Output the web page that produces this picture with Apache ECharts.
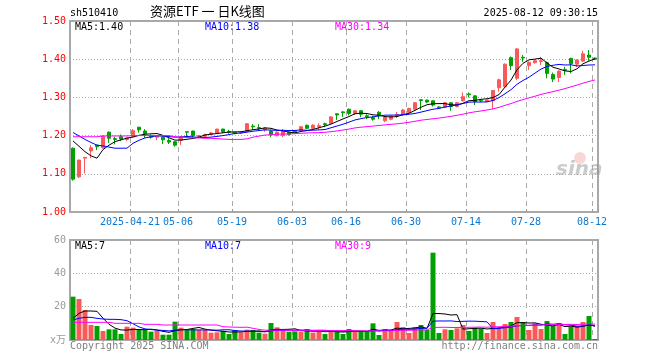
<!DOCTYPE html>
<html><head><meta charset="utf-8">
<script src="https://cdn.jsdelivr.net/npm/echarts@6/dist/echarts.min.js"></script>
<style>html,body{margin:0;padding:0;background:#fff}#c{width:660px;height:360px}</style>
</head><body><div id="c"></div>
<script>
const dates = [
'2025-04-07','2025-04-08','2025-04-09','2025-04-10','2025-04-11','2025-04-14','2025-04-15','2025-04-16','2025-04-17','2025-04-18',
'2025-04-21','2025-04-22','2025-04-23','2025-04-24','2025-04-25','2025-04-28','2025-04-29','2025-04-30',
'2025-05-06','2025-05-07','2025-05-08','2025-05-09','2025-05-12','2025-05-13','2025-05-14','2025-05-15','2025-05-16',
'2025-05-19','2025-05-20','2025-05-21','2025-05-22','2025-05-23','2025-05-26','2025-05-27','2025-05-28','2025-05-29','2025-05-30',
'2025-06-03','2025-06-04','2025-06-05','2025-06-06','2025-06-09','2025-06-10','2025-06-11','2025-06-12','2025-06-13',
'2025-06-16','2025-06-17','2025-06-18','2025-06-19','2025-06-20','2025-06-23','2025-06-24','2025-06-25','2025-06-26','2025-06-27',
'2025-06-30','2025-07-01','2025-07-02','2025-07-03','2025-07-04','2025-07-07','2025-07-08','2025-07-09','2025-07-10','2025-07-11',
'2025-07-14','2025-07-15','2025-07-16','2025-07-17','2025-07-18','2025-07-21','2025-07-22','2025-07-23','2025-07-24','2025-07-25',
'2025-07-28','2025-07-29','2025-07-30','2025-07-31','2025-08-01','2025-08-04','2025-08-05','2025-08-06','2025-08-07','2025-08-08',
'2025-08-11','2025-08-12'];
const opens = [1.167,1.092,1.141,1.160,1.175,1.168,1.209,1.192,1.197,1.190,
1.197,1.222,1.212,1.200,1.196,1.196,1.187,1.184,1.188,1.210,
1.212,1.195,1.198,1.203,1.207,1.217,1.211,1.208,1.207,1.210,
1.225,1.221,1.215,1.212,1.200,1.200,1.209,1.213,1.213,1.227,
1.219,1.224,1.231,1.232,1.257,1.262,1.269,1.258,1.265,1.252,
1.247,1.261,1.239,1.243,1.253,1.256,1.261,1.269,1.294,1.293,
1.291,1.275,1.274,1.286,1.276,1.291,1.309,1.304,1.292,1.289,
1.291,1.325,1.328,1.404,1.350,1.405,1.383,1.391,1.394,1.391,
1.360,1.352,1.373,1.402,1.387,1.395,1.411,1.403];
const closes = [1.086,1.136,1.143,1.168,1.171,1.199,1.193,1.190,1.191,1.194,
1.213,1.215,1.205,1.196,1.198,1.189,1.183,1.175,1.196,1.209,
1.200,1.200,1.203,1.207,1.217,1.210,1.209,1.206,1.208,1.231,
1.223,1.219,1.220,1.202,1.209,1.212,1.203,1.208,1.223,1.219,
1.227,1.226,1.229,1.249,1.254,1.260,1.258,1.265,1.256,1.250,
1.243,1.252,1.248,1.251,1.255,1.267,1.271,1.286,1.292,1.288,
1.280,1.273,1.286,1.276,1.286,1.302,1.307,1.289,1.291,1.293,
1.318,1.346,1.387,1.383,1.427,1.403,1.392,1.396,1.396,1.363,
1.348,1.369,1.371,1.388,1.398,1.414,1.405,1.400];
const lows = [1.082,1.089,1.101,1.141,1.162,1.166,1.181,1.177,1.186,1.186,
1.196,1.208,1.194,1.192,1.188,1.178,1.178,1.171,1.175,1.195,
1.195,1.193,1.196,1.201,1.205,1.206,1.205,1.203,1.204,1.208,
1.215,1.212,1.210,1.196,1.198,1.196,1.200,1.206,1.211,1.217,
1.217,1.215,1.222,1.231,1.241,1.249,1.253,1.254,1.248,1.243,
1.239,1.243,1.235,1.240,1.246,1.252,1.259,1.267,1.267,1.285,
1.276,1.270,1.272,1.265,1.274,1.289,1.300,1.280,1.288,1.287,
1.269,1.315,1.325,1.372,1.345,1.393,1.372,1.388,1.385,1.350,
1.340,1.340,1.359,1.363,1.380,1.393,1.396,1.399];
const highs = [1.169,1.137,1.144,1.175,1.176,1.200,1.211,1.197,1.203,1.195,
1.217,1.223,1.217,1.203,1.200,1.197,1.193,1.186,1.199,1.211,
1.213,1.201,1.205,1.209,1.218,1.218,1.215,1.209,1.210,1.233,
1.230,1.230,1.222,1.215,1.211,1.217,1.210,1.214,1.225,1.229,
1.230,1.232,1.234,1.251,1.258,1.264,1.271,1.267,1.266,1.256,
1.252,1.264,1.250,1.253,1.262,1.270,1.273,1.288,1.295,1.294,
1.292,1.277,1.288,1.287,1.288,1.313,1.313,1.305,1.295,1.294,
1.319,1.349,1.389,1.407,1.429,1.411,1.394,1.398,1.406,1.394,
1.365,1.370,1.380,1.404,1.399,1.422,1.424,1.404];
const volumes = [26,24.6,18,9,8.4,5.4,6.4,6.4,3.6,8,
7.4,6,6,5,5.6,3.2,3.2,11,7.4,6.6,
6.6,6,6,4.4,4.6,5.4,3.6,6,4.6,6.2,
6,4.4,3.8,10.2,7.6,5.6,5,5.2,5,6.6,
4.4,5.2,3.6,6,5.6,3.6,6.6,5.4,5.4,5,
10,3,6.6,5.4,10.8,7.8,4.2,7.8,9,6,
52.4,4.2,6.4,6,7,9,5.4,7.4,7,4.2,
10.8,7,9.6,10.8,13.8,10.8,6,10,6.6,11.4,
8.4,10.2,3.6,8,8.4,10.8,14.4,0.6];
// moving-average values for the days before a full window exists
const ma5Early = [1.186,1.172,1.158,1.147];
const ma10Early = [1.208,1.199,1.190,1.182,1.175,1.173,1.170,1.167,1.167];
const ma30Early = [1.197,1.197,1.197,1.197,1.197,1.199,1.199,1.199,1.199,1.199,
1.200,1.200,1.200,1.200,1.200,1.200,1.200,1.197,1.196,1.195,1.194,1.194,1.193,
1.193,1.192,1.191,1.190,1.190,1.190];
const vma5Early = [13,16,17.4,17.4];
const vma10Early = [12,13,13.6,13.6,13,12.6,12.4,12.4,12.2];
const vma30Early = [10.6,10.6,10.6,10.6,10.6,10.6,10.6,10,10,10,10,10,9.4,9.4,9.4,
9,9,9,9,9,9,9,9,9,9,8.0,7.8,7.7,7.6];
const yTicks = [1.0,1.1,1.2,1.3,1.4,1.5];
const labelIdx = [10,18,27,37,46,56,66,76,87];

function movingAvg(vals, n, early, dec) {
  return vals.map((v, i) => {
    if (i < n - 1) return early[i];
    let s = 0; for (let k = i - n + 1; k <= i; k++) s += vals[k];
    return +(s / n).toFixed(dec);
  });
}
const RED = '#f85a5a', GREEN = '#00a000';
const MONO = 'DejaVu Sans Mono';
const chart = echarts.init(document.getElementById('c'), null, {renderer: 'canvas'});
const showAt = (i) => labelIdx.includes(i);
const option = {
  animation: false,
  backgroundColor: '#fff',
  grid: [
    {left: 70, top: 21, width: 528, height: 191, show: true, borderColor: '#a8a8a8', borderWidth: 2, backgroundColor: 'transparent'},
    {left: 70, top: 240, width: 528, height: 100, show: true, borderColor: '#a8a8a8', borderWidth: 2, backgroundColor: 'transparent'}
  ],
  xAxis: [
    {type: 'category', gridIndex: 0, data: dates, boundaryGap: true,
     axisLine: {show: false},
     axisTick: {show: true, inside: true, length: 3, interval: showAt, lineStyle: {color: '#999'}},
     axisLabel: {interval: showAt, formatter: (v, i) => i === 10 ? v : v.slice(5), color: '#0a78d2',
       fontFamily: MONO, fontSize: 10, margin: 5, padding: [0, 6, 0, 0]},
     splitLine: {show: true, interval: showAt, lineStyle: {color: '#aaa', type: [5, 4], width: 1}}},
    {type: 'category', gridIndex: 1, data: dates, boundaryGap: true,
     axisLine: {show: false}, axisTick: {show: false}, axisLabel: {show: false},
     splitLine: {show: true, interval: showAt, lineStyle: {color: '#aaa', type: [5, 4], width: 1}}}
  ],
  yAxis: [
    {type: 'value', gridIndex: 0, min: yTicks[0], max: yTicks[yTicks.length-1], interval: 0.1,
     axisLine: {show: false}, axisTick: {show: false},
     axisLabel: {color: '#f00', fontFamily: MONO, fontSize: 10, margin: 4, formatter: v => v.toFixed(2)},
     splitLine: {lineStyle: {color: '#aaa', type: [1, 2]}}},
    {type: 'value', gridIndex: 1, min: 0, max: 60, interval: 20,
     axisLine: {show: false}, axisTick: {show: false},
     axisLabel: {color: '#999', fontFamily: MONO + ', Noto Sans CJK SC', fontSize: 10, margin: 4,
       formatter: v => v === 0 ? 'x万' : String(v)},
     splitLine: {lineStyle: {color: '#aaa', type: [1, 2]}}}
  ],
  series: [
    {type: 'candlestick', xAxisIndex: 0, yAxisIndex: 0, barWidth: 4,
     data: dates.map((d, i) => [opens[i], closes[i], lows[i], highs[i]]),
     itemStyle: {color: RED, color0: GREEN, borderColor: RED, borderColor0: GREEN, borderWidth: 1}},
    {type: 'line', xAxisIndex: 0, yAxisIndex: 0, data: movingAvg(closes, 5, ma5Early, 4), symbol: 'none', lineStyle: {color: '#000', width: 1}},
    {type: 'line', xAxisIndex: 0, yAxisIndex: 0, data: movingAvg(closes, 10, ma10Early, 4), symbol: 'none', lineStyle: {color: '#0000ff', width: 1}},
    {type: 'line', xAxisIndex: 0, yAxisIndex: 0, data: movingAvg(closes, 30, ma30Early, 4), symbol: 'none', lineStyle: {color: '#ff00ff', width: 1}},
    {type: 'bar', xAxisIndex: 1, yAxisIndex: 1, barWidth: 5,
     data: volumes.map((v, i) => ({value: v, itemStyle: {color: closes[i] >= opens[i] ? RED : GREEN}}))},
    {type: 'line', xAxisIndex: 1, yAxisIndex: 1, data: movingAvg(volumes, 5, vma5Early, 2), symbol: 'none', lineStyle: {color: '#000', width: 1}},
    {type: 'line', xAxisIndex: 1, yAxisIndex: 1, data: movingAvg(volumes, 10, vma10Early, 2), symbol: 'none', lineStyle: {color: '#0000ff', width: 1}},
    {type: 'line', xAxisIndex: 1, yAxisIndex: 1, data: movingAvg(volumes, 30, vma30Early, 2), symbol: 'none', lineStyle: {color: '#ff00ff', width: 1}}
  ],
  graphic: [
    {type: 'text', left: 70, top: 8, style: {text: 'sh510410', fill: '#000', font: '10px ' + MONO}},
    {type: 'text', left: 150, top: 5, style: {text: '资源ETF 一 日K线图', fill: '#000', font: '13px "Noto Sans CJK SC"'}},
    {type: 'text', right: 62, top: 8, style: {text: '2025-08-12 09:30:15', fill: '#000', font: '10px ' + MONO}},
    {type: 'text', left: 75, top: 22, style: {text: 'MA5:1.40', fill: '#000', font: '10px ' + MONO}},
    {type: 'text', left: 205, top: 22, style: {text: 'MA10:1.38', fill: '#0000ff', font: '10px ' + MONO}},
    {type: 'text', left: 335, top: 22, style: {text: 'MA30:1.34', fill: '#ff00ff', font: '10px ' + MONO}},
    {type: 'text', left: 75, top: 241, style: {text: 'MA5:7', fill: '#000', font: '10px ' + MONO}},
    {type: 'text', left: 205, top: 241, style: {text: 'MA10:7', fill: '#0000ff', font: '10px ' + MONO}},
    {type: 'text', left: 335, top: 241, style: {text: 'MA30:9', fill: '#ff00ff', font: '10px ' + MONO}},
    {type: 'text', left: 70, top: 341, style: {text: 'Copyright 2025 SINA.COM', fill: '#808080', font: '10px ' + MONO}},
    {type: 'text', right: 62, top: 341, style: {text: 'http://finance.sina.com.cn', fill: '#808080', font: '10px ' + MONO}},
    {type: 'text', left: 556, top: 160, style: {text: 'sina', fill: 'rgba(140,140,140,0.45)', font: 'italic bold 20px "DejaVu Sans"'}},
    {type: 'circle', shape: {cx: 580, cy: 158, r: 6}, style: {fill: 'rgba(240,140,140,0.35)'}}
  ]
};
chart.setOption(option);
</script>
</body></html>
